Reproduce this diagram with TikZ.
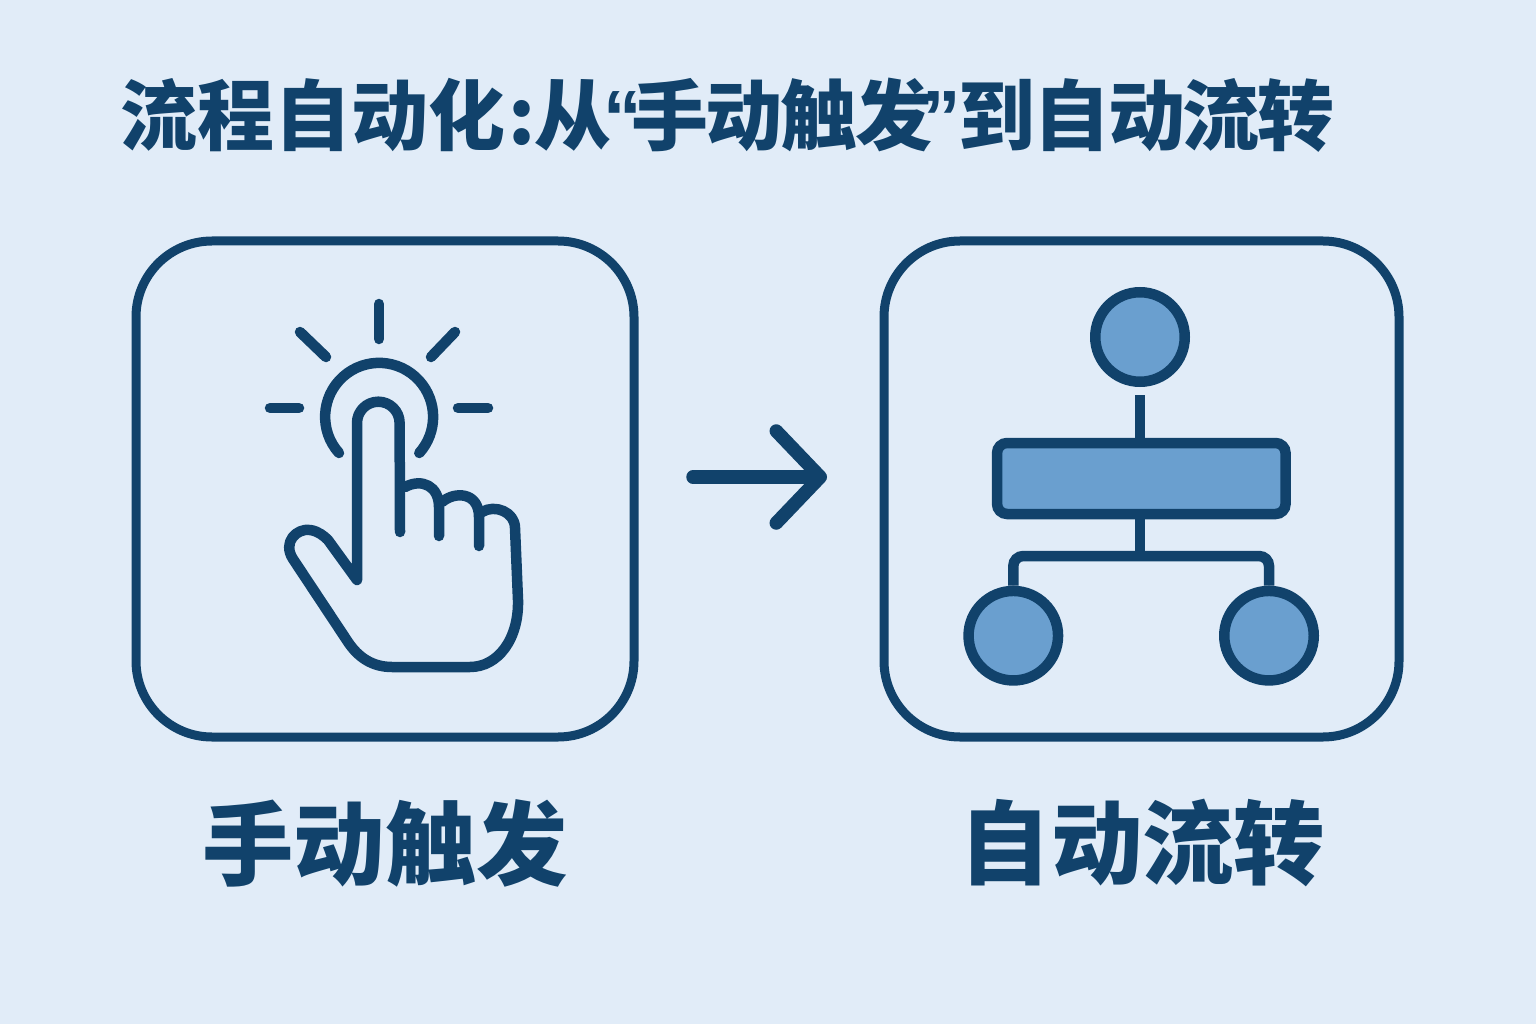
\documentclass[tikz,border=0pt]{standalone}
\usepackage{fontspec}
\setmainfont{Noto Sans CJK SC}
\newfontfamily\quotefont{Liberation Sans}
\usepackage{xcolor}
\usetikzlibrary{arrows.meta}
\definecolor{pagebg}{HTML}{E1ECF8}
\definecolor{inkblue}{HTML}{11426B}
\definecolor{fillblue}{HTML}{6A9FCF}
\tikzset{
	panel/.style={draw=inkblue, line width=0.09cm, rounded corners=0.76cm, minimum height=4.96cm},
	iconline/.style={draw=inkblue, line width=0.105cm, line cap=round, line join=round},
	flownode/.style={circle, draw=inkblue, fill=fillblue, line width=0.105cm, minimum size=0.895cm, inner sep=0pt},
	flowbox/.style={rectangle, draw=inkblue, fill=fillblue, line width=0.105cm, rounded corners=0.1cm, minimum width=2.885cm, minimum height=0.71cm, inner sep=0pt},
	flowline/.style={draw=inkblue, line width=0.105cm},
	caption/.style={text=inkblue, font=\fontsize{26pt}{30pt}\selectfont\bfseries, inner sep=0pt}
}

\begin{document}
\begin{tikzpicture}
	% Background
	\fill[pagebg] (0,0) rectangle (15.36,10.24);
	\useasboundingbox (0,0) rectangle (15.36,10.24);

	% Title
	\node[anchor=west, text=inkblue, font=\fontsize{21.9pt}{26pt}\selectfont\bfseries, inner sep=0pt] (title) at (1.2, 9.09) {流程自动化\kern0.04em:\kern-0.02em 从\kern-0.1em{\quotefont “}\kern-0.14em{\addfontfeature{LetterSpace=-3}手动触发}\kern-0.12em{\quotefont ”}\kern-0.03em{\addfontfeature{LetterSpace=-3}到自动流转}};

	% Panels
	\node[panel, minimum width=4.98cm] (manualpanel) at (3.85, 5.35) {};
	\node[panel, minimum width=5.15cm] (autopanel) at (11.415, 5.35) {};

	% Arrow between panels
	\coordinate (arrowtail) at (6.93, 5.47);
	\coordinate (arrowtip) at (8.27, 5.47);
	\draw[line width=0.135cm, draw=inkblue, line cap=round, -{Straight Barb[round, length=0.44cm, width=0.92cm]}] (arrowtail) -- (arrowtip);

	% Rays
	\foreach \xa/\ya/\xb/\yb in {3.79/7.20/3.79/6.85, 3.00/6.92/3.26/6.67, 4.55/6.92/4.31/6.67, 2.70/6.16/2.99/6.16, 4.58/6.16/4.88/6.16}
		\draw[iconline] (\xa,\ya) -- (\xb,\yb);

	% Ring round the fingertip
	\draw[iconline] (3.39,5.71) arc (222:-42:0.54);

	% Index finger, thumb and palm
	\draw[iconline] (4.00,4.92) -- (3.996,6.01) arc (0:180:0.213) -- (3.57,4.44) -- (3.28,4.84)
		.. controls (3.24,4.88) and (3.18,4.93) .. (3.10,4.94)
		.. controls (2.97,4.96) and (2.82,4.82) .. (2.93,4.65)
		-- (3.48,3.82)
		.. controls (3.58,3.67) and (3.72,3.57) .. (3.92,3.57)
		-- (4.70,3.57)
		.. controls (4.98,3.57) and (5.19,3.85) .. (5.18,4.24)
		-- (5.15,4.96)
		.. controls (5.15,5.12) and (4.95,5.20) .. (4.82,5.12);

	% Other fingers
	\draw[iconline] (4.05,5.37) .. controls (4.22,5.46) and (4.39,5.38) .. (4.39,5.17) -- (4.39,4.88);
	\draw[iconline] (4.42,5.22) .. controls (4.55,5.33) and (4.79,5.32) .. (4.79,5.07) -- (4.79,4.78);

	% Flow icon
	\node[flownode] (topnode) at (11.40, 6.87) {};
	\node[flowbox] (midbox) at (11.413, 5.455) {};
	\node[flownode] (leftnode) at (10.133, 3.883) {};
	\node[flownode] (rightnode) at (12.69, 3.883) {};
	\coordinate (busjoint) at (11.40, 4.68);

	\draw[flowline, shorten <=0.08cm] (topnode) -- (midbox.north -| topnode);
	\draw[flowline] (midbox.south -| busjoint) -- (busjoint);
	\draw[flowline, rounded corners=0.1cm] (leftnode.north) |- (busjoint) -| (rightnode.north);

	% Labels
	\node[caption] (manuallabel) at (3.85, 1.81) {手动触发};
	\node[caption] (autolabel) at (11.425, 1.81) {自动流转};
\end{tikzpicture}
\end{document}
